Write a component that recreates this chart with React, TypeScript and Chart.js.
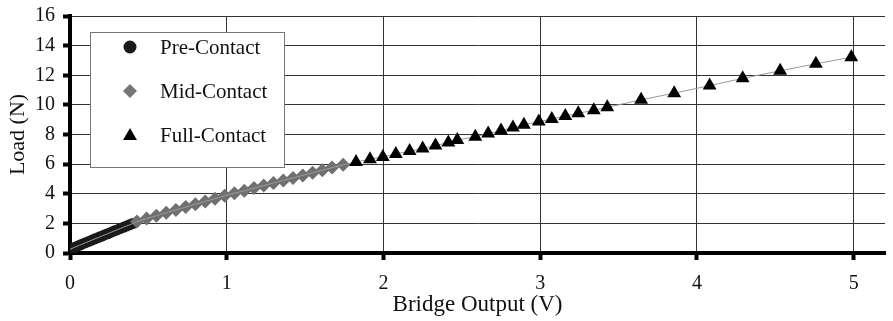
import React, { useEffect, useRef } from "react";
import { Chart, registerables } from "chart.js";

Chart.register(...registerables);

const preX = [0, 0.02, 0.04, 0.06, 0.08, 0.1, 0.12, 0.14, 0.16, 0.18, 0.2, 0.22, 0.24, 0.26, 0.28, 0.3, 0.32, 0.34, 0.36, 0.38, 0.4];
const preY = [0.25, 0.34, 0.43, 0.52, 0.61, 0.7, 0.78, 0.87, 0.96, 1.04, 1.13, 1.22, 1.3, 1.39, 1.48, 1.56, 1.65, 1.73, 1.82, 1.9, 1.99];

const midX = [0.427, 0.489, 0.551, 0.614, 0.676, 0.738, 0.8, 0.863, 0.925, 0.987, 1.049, 1.112, 1.174, 1.236, 1.298, 1.361, 1.423, 1.485, 1.548, 1.61, 1.672, 1.743];
const midY = [2.12, 2.33, 2.52, 2.72, 2.91, 3.1, 3.29, 3.48, 3.67, 3.86, 4.03, 4.2, 4.38, 4.55, 4.72, 4.9, 5.07, 5.24, 5.42, 5.59, 5.77, 5.95];

const fullX = [1.825, 1.914, 1.996, 2.079, 2.167, 2.25, 2.332, 2.414, 2.471, 2.586, 2.668, 2.75, 2.826, 2.896, 2.991, 3.074, 3.16, 3.243, 3.342, 3.428, 3.644, 3.855, 4.081, 4.292, 4.531, 4.759, 4.985];
const fullY = [6.15, 6.33, 6.48, 6.68, 6.88, 7.06, 7.25, 7.46, 7.63, 7.85, 8.06, 8.27, 8.47, 8.65, 8.87, 9.05, 9.25, 9.43, 9.64, 9.84, 10.34, 10.79, 11.3, 11.79, 12.3, 12.77, 13.22];

const seriesNames = ["Pre-Contact", "Mid-Contact", "Full-Contact"];
const xTitle = "Bridge Output (V)";
const yTitle = "Load (N)";

const FONT = '"Liberation Serif", "DejaVu Serif", serif';

const toPts = (xs: number[], ys: number[]) => xs.map((x, i) => ({ x, y: ys[i] }));

function drawMarker(ctx: CanvasRenderingContext2D, kind: string, cx: number, cy: number, r: number, color: string) {
  ctx.fillStyle = color;
  ctx.beginPath();
  if (kind === "circle") {
    ctx.arc(cx, cy, r, 0, Math.PI * 2);
  } else if (kind === "diamond") {
    ctx.moveTo(cx, cy - r);
    ctx.lineTo(cx + r, cy);
    ctx.lineTo(cx, cy + r);
    ctx.lineTo(cx - r, cy);
    ctx.closePath();
  } else {
    ctx.moveTo(cx, cy - r);
    ctx.lineTo(cx + r * 0.866, cy + r * 0.5);
    ctx.lineTo(cx - r * 0.866, cy + r * 0.5);
    ctx.closePath();
  }
  ctx.fill();
}

const legendPlugin = {
  id: "boxLegend",
  afterDraw(chart: any) {
    const ctx: CanvasRenderingContext2D = chart.ctx;
    const { left, top } = chart.chartArea;
    const bx = left + 20;
    const by = top + 16;
    const bw = 194;
    const bh = 135;
    ctx.save();
    ctx.fillStyle = "#ffffff";
    ctx.fillRect(bx, by, bw, bh);
    ctx.strokeStyle = "#777777";
    ctx.lineWidth = 1;
    ctx.strokeRect(bx + 0.5, by + 0.5, bw, bh);
    const kinds = ["circle", "diamond", "triangle"];
    const colors = ["#1a1a1a", "#777777", "#000000"];
    const sizes = [6.5, 7, 8];
    ctx.font = `21px ${FONT}`;
    ctx.textBaseline = "middle";
    ctx.textAlign = "left";
    seriesNames.forEach((name, i) => {
      const cy = by + 15 + i * 44;
      drawMarker(ctx, kinds[i], bx + 40, cy + (i === 2 ? 1 : 0), sizes[i], colors[i]);
      ctx.fillStyle = "#111111";
      ctx.fillText(name, bx + 70, cy + 1);
    });
    ctx.restore();
  },
};

export default function App() {
  const ref = useRef<HTMLCanvasElement | null>(null);
  useEffect(() => {
    document.body.style.margin = "0";
    let chart: any = null;
    let cancelled = false;
    const build = () => {
      if (cancelled || !ref.current) return;
      const allPts = [...toPts(preX, preY), ...toPts(midX, midY), ...toPts(fullX, fullY)];
      chart = new Chart(ref.current, {
        type: "scatter",
        data: {
          datasets: [
            {
              label: seriesNames[2],
              data: toPts(fullX, fullY),
              pointStyle: "triangle",
              pointRadius: 8,
              backgroundColor: "#000000",
              borderColor: "#000000",
              borderWidth: 0,
              showLine: false,
              order: 0,
            },
            {
              label: "trend",
              data: allPts,
              showLine: true,
              pointRadius: 0,
              borderColor: "#9a9a9a",
              borderWidth: 1,
              order: 1,
            },
            {
              label: seriesNames[1],
              data: toPts(midX, midY),
              pointStyle: "rectRot",
              pointRadius: 7,
              backgroundColor: "#707070",
              borderColor: "#707070",
              borderWidth: 0,
              showLine: false,
              order: 2,
            },
            {
              label: seriesNames[0],
              data: toPts(preX, preY),
              pointStyle: "circle",
              pointRadius: 5.5,
              backgroundColor: "#1a1a1a",
              borderColor: "#1a1a1a",
              borderWidth: 0,
              showLine: false,
              order: 3,
            },
          ],
        },
        options: {
          responsive: false,
          animation: false,
          devicePixelRatio: 1,
          layout: { padding: { top: 16, right: 2, left: 5, bottom: 0 } },
          plugins: { legend: { display: false }, tooltip: { enabled: false } },
          scales: {
            x: {
              type: "linear",
              min: 0,
              max: 5.2,
              ticks: {
                stepSize: 1,
                includeBounds: false,
                color: "#111",
                font: { family: FONT, size: 20 },
                padding: 12,
                maxRotation: 0,
              },
              grid: { color: "#333", lineWidth: 1, tickColor: "#000", tickWidth: 4, tickLength: 7 },
              border: { color: "#000", width: 4 },
              title: { display: true, text: xTitle, color: "#111", font: { family: FONT, size: 23 }, padding: { top: 0, bottom: 2 } },
              afterFit: (s: any) => {
                s.height = 68;
                s.paddingLeft = 0;
                s.paddingRight = 0;
              },
            },
            y: {
              type: "linear",
              min: 0,
              max: 16,
              ticks: {
                stepSize: 2,
                color: "#111",
                font: { family: FONT, size: 20 },
                padding: 8,
              },
              grid: { color: "#333", lineWidth: 1, tickColor: "#000", tickWidth: 4, tickLength: 7 },
              border: { color: "#000", width: 4 },
              title: { display: true, text: yTitle, color: "#111", font: { family: FONT, size: 22 }, padding: 0 },
              afterFit: (s: any) => {
                s.width = 65;
                s.paddingTop = 0;
                s.paddingBottom = 0;
              },
            },
          },
        },
        plugins: [legendPlugin],
      } as any);
    };
    const fonts: any = (document as any).fonts;
    if (fonts && fonts.load) {
      Promise.all([
        fonts.load('20px "Liberation Serif"'),
        fonts.load('23px "Liberation Serif"'),
      ]).then(build, build);
    } else {
      build();
    }
    return () => {
      cancelled = true;
      if (chart) chart.destroy();
    };
  }, []);
  return (
    <div style={{ width: 893, height: 321 }}>
      <canvas ref={ref} width={893} height={321} style={{ display: "block" }} />
    </div>
  );
}
